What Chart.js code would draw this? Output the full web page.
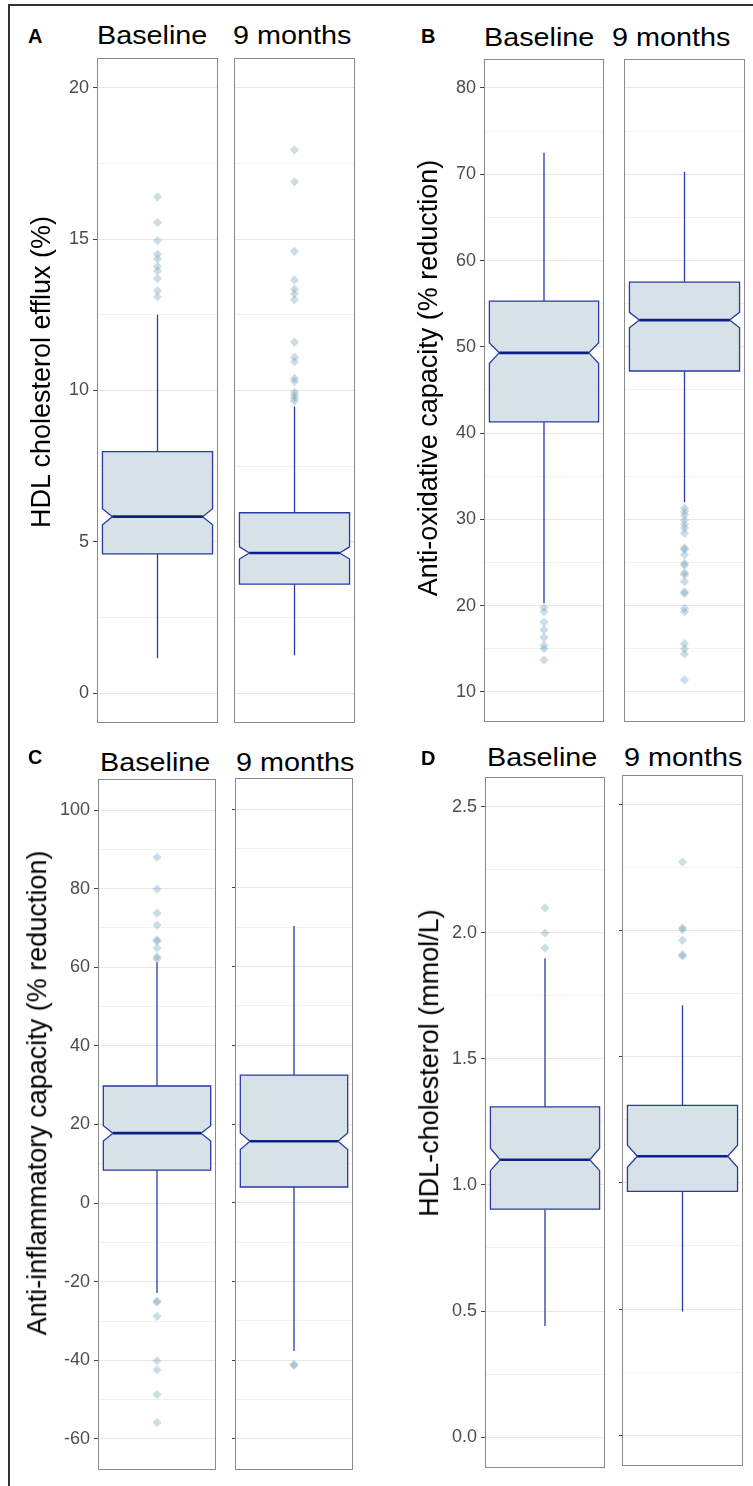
<!DOCTYPE html>
<html>
<head>
<meta charset="utf-8">
<script src="https://cdn.jsdelivr.net/npm/chart.js@4.4.1/dist/chart.umd.min.js"></script>
<style>
  html, body { margin: 0; padding: 0; background: #fff; }
  #fig { position: relative; width: 753px; height: 1486px; overflow: hidden; background: #fff;
         font-family: "Liberation Sans", Arial, sans-serif; }
  #frame { position: absolute; left: 8px; top: 4px; width: 800px; height: 1600px;
           border-left: 2px solid #333; border-top: 2px solid #333; }
  .txt { position: absolute; white-space: nowrap; line-height: 1; color: #000; }
  .facet { position: absolute; }
  .facet canvas { display: block; }
</style>
</head>
<body>
<div id="fig"><div id="frame"></div></div>
<script>
/* ===============================
   Data
================================ */
const groups = ["Baseline", "9 months"];

// A: HDL cholesterol efflux (%)
const effluxTicks = [0, 5, 10, 15, 20];
const effluxMinor = [2.5, 7.5, 12.5, 17.5];
const effluxLow = [1.15, 1.25];
const effluxQ1 = [4.6, 3.6];
const effluxMedian = [5.83, 4.63];
const effluxQ3 = [7.98, 5.96];
const effluxHigh = [12.5, 9.47];
const effluxNotchLo = [5.56, 4.43];
const effluxNotchHi = [6.09, 4.83];
const effluxOutBase = [16.4, 15.55, 14.95, 14.5, 14.35, 14.1, 13.95, 13.7, 13.3, 13.1];
const effluxOut9m = [17.95, 16.9, 14.6, 13.65, 13.35, 13.2, 13.0, 11.6, 11.1, 10.95, 10.4, 10.3, 9.95, 9.85, 9.75, 9.65];

// B: Anti-oxidative capacity (% reduction)
const oxTicks = [10, 20, 30, 40, 50, 60, 70, 80];
const oxMinor = [15, 25, 35, 45, 55, 65, 75];
const oxLow = [20.3, 32.0];
const oxQ1 = [41.3, 47.2];
const oxMedian = [49.3, 53.1];
const oxQ3 = [55.3, 57.5];
const oxHigh = [72.5, 70.3];
const oxNotchLo = [48.1, 52.2];
const oxNotchHi = [50.45, 54.0];
const oxOutBase = [19.8, 19.3, 18.1, 17.2, 16.3, 15.4, 15.0, 13.7];
const oxOut9m = [31.3, 30.9, 30.5, 29.9, 29.4, 29.0, 28.4, 26.7, 26.5, 25.9, 24.9, 24.7, 23.8, 23.6,
                 22.8, 21.6, 21.4, 19.7, 19.3, 15.6, 15.0, 14.4, 11.4];

// C: Anti-inflammatory capacity (% reduction)
const infTicks = [-60, -40, -20, 0, 20, 40, 60, 80, 100];
const infMinor = [-50, -30, -10, 10, 30, 50, 70, 90];
const infLow = [-22.9, -37.7];
const infQ1 = [8.4, 4.0];
const infMedian = [17.8, 15.6];
const infQ3 = [29.8, 32.4];
const infHigh = [61.3, 70.3];
const infNotchLo = [15.8, 13.5];
const infNotchHi = [19.7, 17.7];
const infOutBase = [88.0, 79.9, 73.8, 70.7, 67.0, 66.6, 64.9, 62.7, 62.1,
                    -24.9, -25.2, -28.8, -40.1, -42.4, -48.7, -55.8];
const infOut9m = [-41.3, -41.1];

// D: HDL-cholesterol (mmol/L)
const hdlTicks = [0, 0.5, 1.0, 1.5, 2.0, 2.5];
const hdlMinor = [0.25, 0.75, 1.25, 1.75, 2.25];
const hdlLow = [0.44, 0.49];
const hdlQ1 = [0.904, 0.967];
const hdlMedian = [1.10, 1.106];
const hdlQ3 = [1.31, 1.308];
const hdlHigh = [1.90, 1.705];
const hdlNotchLo = [1.057, 1.062];
const hdlNotchHi = [1.146, 1.15];
const hdlOutBase = [2.10, 2.00, 1.94];
const hdlOut9m = [2.274, 2.012, 2.005, 1.963, 1.906, 1.90];

/* ===============================
   Styles
================================ */
const FONT = '"Liberation Sans", Arial, sans-serif';
const BOX_HALF = 0.455;        // half box width, x-units (facet spans -0.5..0.5)
const NOTCH_WIDTH = 0.82;      // width at the notch relative to box
const BOX_FILL = "#d6e2e8";
const BOX_LINE = "#2a3aa2";
const MEDIAN_LINE = "#0c1f88";
const WHISKER_LINE = "#2b3ba8";
const OUTLIER_FILL = "rgba(100,148,175,0.32)";
const PANEL_LINE = "#8a8a8a";

/* ===============================
   Panels
================================ */
const panels = [
  {
    letter: "A", letterPos: [28, 43],
    title: "HDL cholesterol efflux (%)", titlePos: [51, 371.5],
    stripLeft: [97, 233], stripBase: 44,
    ticks: effluxTicks, minor: effluxMinor, range: [-0.99, 20.99], digits: 0, innerTicks: false,
    low: effluxLow, q1: effluxQ1, med: effluxMedian, q3: effluxQ3, high: effluxHigh,
    nlo: effluxNotchLo, nhi: effluxNotchHi, out: [effluxOutBase, effluxOut9m],
    boxes: [[97, 58, 218, 723], [234, 58, 355, 723]]
  },
  {
    letter: "B", letterPos: [421, 43],
    title: "Anti-oxidative capacity (% reduction)", titlePos: [438, 377.5],
    stripLeft: [484, 612], stripBase: 46,
    ticks: oxTicks, minor: oxMinor, range: [6.52, 83.36], digits: 0, innerTicks: false,
    low: oxLow, q1: oxQ1, med: oxMedian, q3: oxQ3, high: oxHigh,
    nlo: oxNotchLo, nhi: oxNotchHi, out: [oxOutBase, oxOut9m],
    boxes: [[484, 59, 604, 722], [624, 59, 745, 722]]
  },
  {
    letter: "C", letterPos: [28, 764],
    title: "Anti-inflammatory capacity (% reduction)", titlePos: [46.5, 1092.5],
    stripLeft: [100, 236], stripBase: 771,
    ticks: infTicks, minor: infMinor, range: [-67.9, 107.9], digits: 0, innerTicks: true,
    low: infLow, q1: infQ1, med: infMedian, q3: infQ3, high: infHigh,
    nlo: infNotchLo, nhi: infNotchHi, out: [infOutBase, infOut9m],
    boxes: [[98, 779, 216, 1470], [235, 778, 353, 1470]]
  },
  {
    letter: "D", letterPos: [421, 765],
    title: "HDL-cholesterol (mmol/L)", titlePos: [439, 1062.5],
    stripLeft: [487, 624], stripBase: 766,
    ticks: hdlTicks, minor: hdlMinor, range: [-0.123, 2.619], digits: 1, innerTicks: true,
    low: hdlLow, q1: hdlQ1, med: hdlMedian, q3: hdlQ3, high: hdlHigh,
    nlo: hdlNotchLo, nhi: hdlNotchHi, out: [hdlOutBase, hdlOut9m],
    boxes: [[485, 777, 605, 1468], [622, 775, 743, 1466]]
  }
];

/* ===============================
   Plugins
================================ */
const notchBox = {
  id: "notchBox",
  beforeDatasetsDraw(chart, args, o) {
    const { ctx, scales: { x, y } } = chart;
    const py = v => y.getPixelForValue(v);
    const cx = x.getPixelForValue(0);
    const x0 = x.getPixelForValue(-BOX_HALF);
    const x1 = x.getPixelForValue(BOX_HALF);
    const inset = (x1 - x0) * (1 - NOTCH_WIDTH) / 2;

    ctx.save();
    // whiskers
    ctx.strokeStyle = WHISKER_LINE;
    ctx.lineWidth = 1.3;
    ctx.beginPath();
    ctx.moveTo(cx, py(o.high)); ctx.lineTo(cx, py(o.q3));
    ctx.moveTo(cx, py(o.q1)); ctx.lineTo(cx, py(o.low));
    ctx.stroke();

    // notched box
    ctx.beginPath();
    ctx.moveTo(x0, py(o.q3));
    ctx.lineTo(x0, py(o.nhi));
    ctx.lineTo(x0 + inset, py(o.med));
    ctx.lineTo(x0, py(o.nlo));
    ctx.lineTo(x0, py(o.q1));
    ctx.lineTo(x1, py(o.q1));
    ctx.lineTo(x1, py(o.nlo));
    ctx.lineTo(x1 - inset, py(o.med));
    ctx.lineTo(x1, py(o.nhi));
    ctx.lineTo(x1, py(o.q3));
    ctx.closePath();
    ctx.fillStyle = BOX_FILL;
    ctx.fill();
    ctx.strokeStyle = BOX_LINE;
    ctx.lineWidth = 1.3;
    ctx.stroke();

    // median
    ctx.beginPath();
    ctx.moveTo(x0 + inset, py(o.med));
    ctx.lineTo(x1 - inset, py(o.med));
    ctx.strokeStyle = MEDIAN_LINE;
    ctx.lineWidth = 2.6;
    ctx.stroke();
    ctx.restore();
  }
};

const panelBorder = {
  id: "panelBorder",
  afterDraw(chart) {
    const { ctx, chartArea: a } = chart;
    ctx.save();
    ctx.strokeStyle = PANEL_LINE;
    ctx.lineWidth = 1;
    ctx.strokeRect(a.left + 0.5, a.top + 0.5, a.right - a.left - 1, a.bottom - a.top - 1);
    ctx.restore();
  }
};

/* ===============================
   Text helpers
================================ */
const fig = document.getElementById("fig");

function addText(txt, left, baseline, size, extra) {
  const d = document.createElement("div");
  d.className = "txt";
  d.textContent = txt;
  d.style.fontSize = size + "px";
  d.style.left = left + "px";
  d.style.top = (baseline - 0.8465 * size) + "px";
  Object.assign(d.style, extra || {});
  fig.appendChild(d);
  return d;
}

function addRotated(txt, baseX, centerY, size) {
  const d = document.createElement("div");
  d.className = "txt";
  d.textContent = txt;
  d.style.fontSize = size + "px";
  d.style.left = baseX + "px";
  d.style.top = centerY + "px";
  d.style.transformOrigin = "0 0";
  d.style.transform = `rotate(-90deg) translate(-50%, ${-0.8465 * size}px)`;
  fig.appendChild(d);
}

/* ===============================
   Facet chart
================================ */
function drawFacet(p, g) {
  const [L, T, R, B] = p.boxes[g];
  const axisW = g === 0 ? 60 : (p.innerTicks ? 3 : 0);

  const wrap = document.createElement("div");
  wrap.className = "facet";
  wrap.style.left = (L - axisW - 1) + "px";
  wrap.style.top = (T - 1) + "px";
  const canvas = document.createElement("canvas");
  canvas.width = axisW + (R - L) + 2;
  canvas.height = (B - T) + 2;
  wrap.appendChild(canvas);
  fig.appendChild(wrap);

  const allTicks = p.ticks.concat(p.minor);
  const isMajor = v => p.ticks.includes(v);

  return new Chart(canvas, {
    type: "scatter",
    data: {
      datasets: [{
        label: groups[g],
        data: p.out[g].map(v => ({ x: 0, y: v })),
        pointStyle: "rectRot",
        pointRadius: 4.6,
        pointHoverRadius: 4.6,
        backgroundColor: OUTLIER_FILL,
        borderWidth: 0
      }]
    },
    options: {
      responsive: false,
      animation: false,
      layout: { autoPadding: false, padding: { left: 1, right: 1, top: 1, bottom: 1 } },
      plugins: {
        legend: { display: false },
        tooltip: { enabled: false },
        notchBox: {
          low: p.low[g], q1: p.q1[g], med: p.med[g], q3: p.q3[g], high: p.high[g],
          nlo: p.nlo[g], nhi: p.nhi[g]
        }
      },
      scales: {
        x: { type: "linear", min: -0.5, max: 0.5, display: false },
        y: {
          type: "linear",
          min: p.range[0],
          max: p.range[1],
          afterBuildTicks: s => { s.ticks = allTicks.map(v => ({ value: v })); },
          afterFit: s => { s.width = axisW; s.paddingTop = 0; s.paddingBottom = 0; },
          border: { display: false },
          grid: {
            color: c => isMajor(c.tick && c.tick.value) ? "#e6e6e6" : "#f1f1f1",
            lineWidth: 1,
            drawTicks: axisW > 0,
            tickLength: g === 0 ? 4 : 3,
            tickColor: c => isMajor(c.tick && c.tick.value) ? "#444" : "rgba(0,0,0,0)"
          },
          ticks: {
            display: g === 0,
            autoSkip: false,
            padding: 4,
            color: "#4d4d4d",
            font: { family: FONT, size: 18 },
            callback: v => isMajor(v) ? v.toFixed(p.digits) : ""
          }
        }
      }
    },
    plugins: [notchBox, panelBorder]
  });
}

/* ===============================
   Build figure
================================ */
panels.forEach(p => {
  drawFacet(p, 0);
  drawFacet(p, 1);

  addText(p.letter, p.letterPos[0], p.letterPos[1], 20, { fontWeight: "bold" });
  groups.forEach((name, g) => {
    addText(name, p.stripLeft[g], p.stripBase, 25,
      { transformOrigin: "0 0", transform: "scaleX(1.15)" });
  });
  addRotated(p.title, p.titlePos[0], p.titlePos[1], 27);
});
</script>
</body>
</html>
